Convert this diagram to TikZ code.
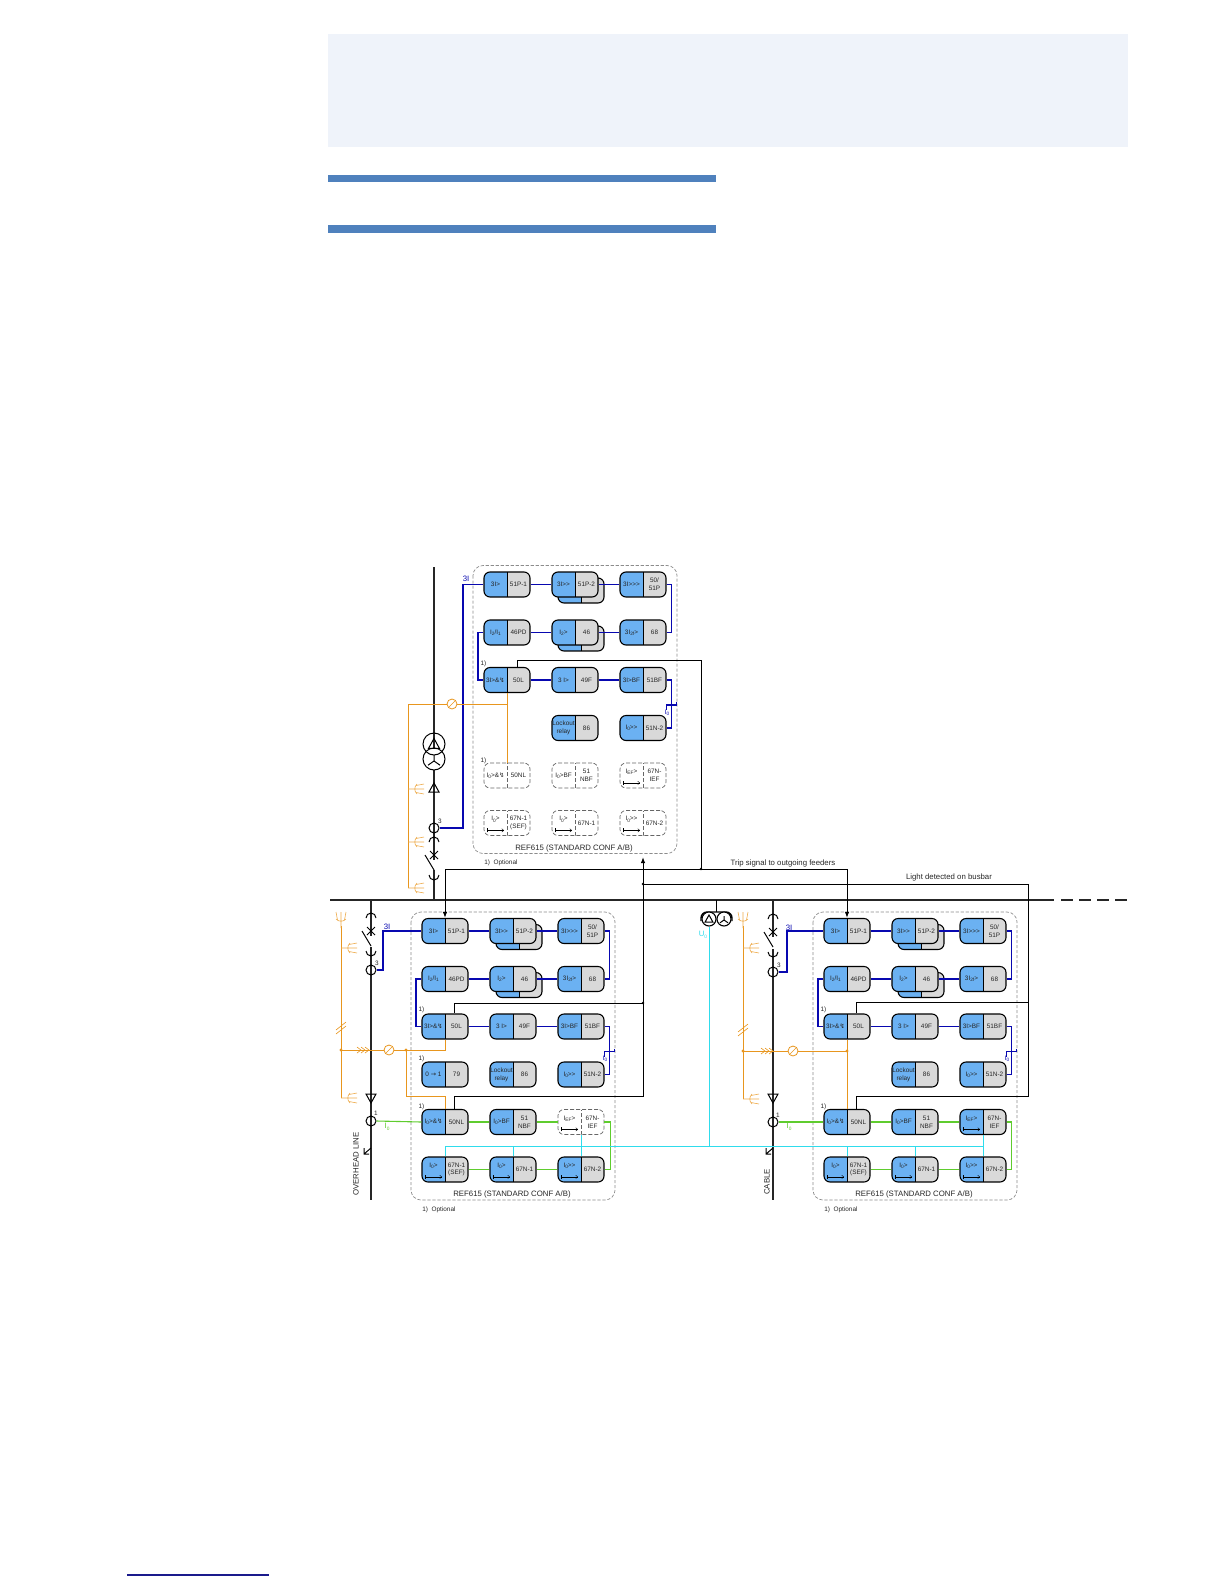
\documentclass[tikz,border=0pt]{standalone}
\usepackage{fontspec}
\usetikzlibrary{arrows.meta}
\setmainfont{Liberation Sans}
\newfontfamily\symfont{DejaVu Sans}
\definecolor{headfill}{HTML}{EFF3FA}
\definecolor{barblue}{HTML}{4F81BD}
\definecolor{linkblue}{HTML}{1A1A8C}
\definecolor{modblue}{HTML}{6BB1F2}
\definecolor{modgray}{HTML}{D9D9D9}
\definecolor{wireblue}{HTML}{0808B0}
\definecolor{wireorange}{HTML}{E8961E}
\definecolor{wiregreen}{HTML}{5FCC2E}
\definecolor{wirecyan}{HTML}{2FDCEC}
\definecolor{framegray}{HTML}{8C8C8C}
\tikzset{
  >={Latex[length=3pt,width=2.2pt]},
  modfill/.style={draw,line width=.55pt,rounded corners=3pt,minimum width=23pt,minimum height=12.5pt,inner sep=0pt,
    path picture={
      \fill[modblue,sharp corners] (path picture bounding box.south west) rectangle (path picture bounding box.north);
      \fill[modgray,sharp corners] (path picture bounding box.south east) rectangle (path picture bounding box.north);
      \draw[line width=.2pt,sharp corners] (path picture bounding box.south) -- (path picture bounding box.north);}},
  modopt/.style={draw=black!60,line width=.35pt,dash pattern=on 2pt off 1pt,rounded corners=3pt,minimum width=23pt,minimum height=12.5pt,inner sep=0pt,
    path picture={
      \draw[line width=.25pt,sharp corners] (path picture bounding box.south) -- (path picture bounding box.north);}},
  modtext/.style={font=\fontsize{3.2}{3.9}\selectfont,align=center,inner sep=0pt,text=black!85},
  captext/.style={font=\fontsize{3.9}{4.6}\selectfont,inner sep=0pt,text=black!85},
  smalltext/.style={font=\fontsize{3.2}{3.8}\selectfont,inner sep=0pt,text=black!85},
  wire/.style={line width=.5pt},
  bluewire/.style={line width=.55pt,draw=wireblue},
  orangewire/.style={line width=.5pt,draw=wireorange},
  greenwire/.style={line width=.55pt,draw=wiregreen},
  cyanwire/.style={line width=.5pt,draw=wirecyan},
  bigbar/.style={line width=.75pt,draw=black!85},
  feeder/.style={line width=.75pt,draw=black!85},
  symline/.style={line width=.5pt},
  earthsym/.style={line width=.3pt,draw=wireorange!80},
  ctring/.style={circle,draw,line width=.5pt,minimum size=5pt,inner sep=0pt},
  meter/.style={circle,draw=wireorange,fill=white,line width=.4pt,minimum size=5pt,inner sep=0pt},
  ptring/.style={circle,draw,line width=.55pt,minimum size=7pt,inner sep=0pt},
  xfmring/.style={circle,draw,line width=.5pt,minimum size=11pt,inner sep=0pt},
}
\newcommand\zapsym{{\symfont\char"21AF}}
\newcommand\subidx[1]{\raisebox{-.35ex}{\fontsize{2.4}{2.4}\selectfont #1}}
% one function block: style, name, position, left and right text
\newcommand\modbox[7][]{%
  \node[#2] (#3) at (#4,#5) {};
  \node[modtext,xshift=-5.75pt,#1] (#3a) at (#3.center) {#6};
  \node[modtext,xshift=5.75pt] (#3b) at (#3.center) {#7};}
\newcommand\dirarrow[1]{%
  \draw[{Bar[width=2pt,line width=.2pt]}-{To[length=1.2pt,width=1.8pt]},line width=.2pt] ([xshift=-10pt,yshift=-3.7pt]#1.center) -- ([xshift=-1.5pt,yshift=-3.7pt]#1.center);}
% all six rows of a relay panel
\newcommand\relaypanel[4]{%
\begin{scope}[shift={(#2)}]
  \draw[framegray,line width=.35pt,dash pattern=on 1.6pt off .9pt,rounded corners=5pt] (-11,-19) rectangle (193,269);
  \node[modfill] (#1s12) at (97,6) {};
  \node[modfill] (#1s22) at (97,54) {};
  \modbox{modfill}{#111}{23}{0}{3I>}{51P-1}
  \modbox{modfill}{#112}{91}{0}{3I>{}>}{51P-2}
  \modbox{modfill}{#113}{159}{0}{3I>{}>{}>}{50/\\51P}
  \modbox{modfill}{#121}{23}{48}{I\subidx{2}/I\subidx{1}}{46PD}
  \modbox{modfill}{#122}{91}{48}{I\subidx{2}>}{46}
  \modbox{modfill}{#123}{159}{48}{3I\subidx{2f}>}{68}
  \modbox{modfill}{#131}{23}{95.5}{3I>\&\zapsym}{50L}
  \modbox{modfill}{#132}{91}{95.5}{3 I>}{49F}
  \modbox{modfill}{#133}{159}{95.5}{3I>BF}{51BF}
  \modbox{modfill}{#142}{91}{143.5}{Lockout\\relay}{86}
  \modbox{modfill}{#143}{159}{143.5}{I\subidx{0}>{}>}{51N-2}
  \modbox{#3}{#151}{23}{191}{I\subidx{0}>\&\zapsym}{50NL}
  \modbox{#3}{#152}{91}{191}{I\subidx{0}>BF}{51\\NBF}
  \modbox[yshift=1.8pt]{#4}{#153}{159}{191}{I\subidx{EF}>}{67N-\\IEF}
  \modbox[yshift=1.8pt]{#3}{#161}{23}{238.5}{I\subidx{0}>}{67N-1\\(SEF)}
  \modbox[yshift=1.8pt]{#3}{#162}{91}{238.5}{I\subidx{0}>}{67N-1}
  \modbox[yshift=1.8pt]{#3}{#163}{159}{238.5}{I\subidx{0}>{}>}{67N-2}
  \dirarrow{#153}
  \dirarrow{#161}
  \dirarrow{#162}
  \dirarrow{#163}
  \foreach \a/\b in {11/12,12/13,21/22,22/23,31/32,32/33}
    \draw[bluewire] (#1\a) -- (#1\b);
  \draw[bluewire] (#113.east) -- ++(5,0) |- (#123.east);
  \draw[bluewire] (#121.west) -- ++(-5.5,0) |- (#131.west);
  \coordinate (#1tick) at (187.5,120.5);
  \draw[bluewire] (#133.east) -| (#1tick);
  \draw[bluewire] (#143.east) -| (#1tick);
  \draw[bluewire] (#1tick) ++(-5,5) -- ++(0,-5) -- ++(10,0) -- ++(0,-3);
  \node[smalltext,text=wireblue] (#1io) at (183,128) {I\subidx{0}};
  \node[captext] (#1cap) at (90,263.5) {REF615 (STANDARD CONF A/B)};
  \node[smalltext,anchor=west] (#1opt) at (0,278.5) {1)\ \ Optional};
  \node[smalltext] (#1oa) at (-.5,79) {1)};
  \node[smalltext] (#1ob) at (-.5,176) {1)};
\end{scope}}
\newcommand\cbswitch[2]{%
  \draw[symline] (#1,#2) ++(-5,-13) arc[start angle=180,end angle=0,radius=2.5pt];
  \draw[symline] (#1,#2) ++(-4,-4) -- ++(8,8) ++(-8,0) -- ++(8,-8);
  \draw[symline] (#1,#2) ++(-9,0) -- ++(9,15);
  \draw[symline] (#1,#2) ++(-5,20) arc[start angle=180,end angle=360,radius=2.5pt];}
\newcommand\arrester[3]{%
  \begin{scope}[shift={(#1,#2)},yscale=#3]
    \draw[symline] (-5,4) -- (0,-5) -- (5,4) -- cycle;
  \end{scope}}
\newcommand\deltasym[3]{%
  \begin{scope}[shift={(#1,#2)},scale=#3]
    \draw[symline] (-1,.8) -- (0,-1) -- (1,.8) -- cycle;
  \end{scope}}
\newcommand\wyesym[3]{%
  \begin{scope}[shift={(#1,#2)},scale=#3]
    \draw[symline] (0,-1) -- (0,0) -- (-1,.7) (0,0) -- (1,.7);
  \end{scope}}
\newcommand\earthfork[3]{%
  \begin{scope}[shift={(#1,#2)},rotate=#3]
    \draw[earthsym] (0,0) -- (16,0) (9,-5) .. controls (6,-2) and (6,2) .. (9,5);
    \draw[earthsym] (8,-3.5) -- (16,-5) (8,3.5) -- (16,5);
  \end{scope}}
\newcommand\earthkey[2]{%
  \draw[symline] (#1,#2) ++(0,-4) -- ++(-7,6) ++(0,-6) -- ++(0,6) -- ++(5,0);}
\begin{document}
\begin{tikzpicture}[x=.5pt,y=-.5pt]
\useasboundingbox (0,0) rectangle (1224,1584);
% page furniture
\fill[headfill] (328,34) rectangle (1128,147);
\fill[barblue] (328,175) rectangle (716,182);
\fill[barblue] (328,225) rectangle (716,233);
\draw[linkblue,line width=.6pt] (127,1575) -- (269,1575);
% busbar
\draw[bigbar] (330,900) -- (1054,900);
\draw[bigbar,dash pattern=on 6pt off 3pt] (1061,900) -- (1127,900);
% feeders
\draw[feeder] (434,567) -- (434,860);
\draw[feeder] (434,870) -- (434,900);
\draw[feeder] (371,900) -- (371,936);
\draw[feeder] (371,947) -- (371,1200);
\draw[feeder] (773,900) -- (773,937);
\draw[feeder] (773,949) -- (773,1200);
\cbswitch{434}{855}
\cbswitch{371}{931}
\cbswitch{773}{932}
% relay panels
\relaypanel{t}{484,584.5}{modopt}{modopt}
\relaypanel{l}{422,931}{modfill}{modopt}
\relaypanel{r}{824,931}{modfill}{modfill}
\begin{scope}[shift={(422,931)}]
\modbox{modfill}{l41}{23}{143.5}{0 {\symfont →} 1}{79}
\node[smalltext] (loc) at (-.5,128) {1)};
\end{scope}
% primary symbols
\node[xfmring,fill=white] (xfm2) at (434,759) {};
\node[xfmring] (xfm1) at (434,744) {};
\deltasym{434}{744}{5.5}
\wyesym{434}{761}{6}
\arrester{434}{788}{1}
\arrester{371}{1098}{-1}
\arrester{773}{1098}{-1}
\node[ctring] (ctt) at (434,828) {};
\node[ctring] (ctla) at (371,970) {};
\node[ctring] (ctlb) at (371,1121) {};
\node[ctring] (ctra) at (773,972) {};
\node[ctring] (ctrb) at (773,1122) {};
\node[smalltext] (ctttxt) at (440,821) {3};
\node[smalltext] (ctlatxt) at (377,963) {3};
\node[smalltext] (ctlbtxt) at (376,1113) {1};
\node[smalltext] (ctratxt) at (779,965) {3};
\node[smalltext] (ctrbtxt) at (778,1115) {1};
\earthkey{371}{1152}
\earthkey{773}{1152}
% voltage transformer
\coordinate (vtb) at (716,900);
\coordinate (vta) at (716,912);
\draw[wire] (vtb) -- (vta);
\draw[line width=.7pt,rounded corners=3pt] (701,921) -- (701,912) -- (732,912) -- (732,921);
\node[ptring,fill=white] (vt1) at (709,919) {};
\node[ptring,fill=white] (vt2) at (724,919) {};
\deltasym{709}{919}{4}
\wyesym{724}{920}{4}
\node[captext,text=wirecyan] (u0) at (703,935) {U\subidx{0}};
% current inputs
\coordinate (tbend) at (463,584.5);
\coordinate (lbend) at (383,931);
\coordinate (rbend) at (787,931);
\draw[bluewire] (ctt.east) -| (tbend) -- (t11.west);
\draw[bluewire] (ctla.east) -| (lbend) -- (l11.west);
\draw[bluewire] (ctra.east) -| (rbend) -- (r11.west);
\node[captext,text=wireblue] (tthree) at (466,579) {3I};
\node[captext,text=wireblue] (lthree) at (387,927) {3I};
\node[captext,text=wireblue] (rthree) at (789,928) {3I};
\draw[greenwire] (ctlb.east) -- (l51.west);
\draw[greenwire] (ctrb.east) -- (r51.west);
\foreach \a/\b in {51/52,52/53,63/62,62/61}{
  \draw[greenwire] (l\a) -- (l\b);
  \draw[greenwire] (r\a) -- (r\b);
}
\draw[greenwire] (l53.east) -- ++(6,0) |- (l63.east);
\draw[greenwire] (r53.east) -- ++(5,0) |- (r63.east);
\node[captext,text=wiregreen] (lio) at (387,1127) {I\subidx{0}};
\node[captext,text=wiregreen] (rio) at (789,1127) {I\subidx{0}};
% residual voltage
\coordinate (ubus) at (709,1146);
\draw[cyanwire] (vt1.south) -- (ubus);
\draw[cyanwire] (l61.north) -- (l61.north |- ubus) -- (r53.south |- ubus) -- (r53.south);
\draw[cyanwire] (l62.north) -- (l62.north |- ubus);
\draw[cyanwire] (r61.north) -- (r61.north |- ubus);
\draw[cyanwire] (r62.north) -- (r62.north |- ubus);
\draw[cyanwire] (l53.south) -- (l63.north);
\draw[cyanwire] (r53.south) -- (r63.north);
% auxiliary orange wiring
\coordinate (orat) at (408,704);
\coordinate (orab) at (408,888);
\coordinate (oral) at (341,1050);
\coordinate (oralb) at (406,1050);
\coordinate (oralc) at (406,1096);
\coordinate (oralt) at (341,926);
\coordinate (orald) at (341,1098);
\coordinate (orar) at (743,1051);
\coordinate (orart) at (743,926);
\coordinate (orard) at (743,1099);
\draw[orangewire] (orab) -- (orat) -- (t31.south |- orat);
\draw[orangewire] (t31.south) -- (t51.north);
\draw[orangewire] (oral) -- (l31.south |- oral) -- (l31.south);
\draw[orangewire] (oralb) -- (oralc) -| (l51.north);
\draw[orangewire] (oral) -- (orald);
\draw[orangewire,line width=.35pt] (oralt) -- (oral);
\draw[orangewire] (orar) -- (r31.south |- orar);
\draw[orangewire] (r31.south) -- (r51.north);
\draw[orangewire] (orar) -- (orard);
\draw[orangewire,line width=.35pt] (orart) -- (orar);
\fill[wireorange] (oral) circle (.8pt) (oralb) circle (.8pt) (orar) circle (.8pt) (r31.south |- orar) circle (.8pt);
\node[meter] (mett) at (452,704) {};
\node[meter] (metl) at (389,1050) {};
\node[meter] (metr) at (793,1051) {};
\foreach \m in {mett,metl,metr}
  \draw[wireorange,line width=.3pt] ([xshift=-1.4pt,yshift=-1.4pt]\m.center) -- ([xshift=1.4pt,yshift=1.4pt]\m.center);
\earthfork{408}{789}{0}
\earthfork{408}{842}{0}
\earthfork{408}{888}{0}
\earthfork{341}{948}{0}
\earthfork{341}{1098}{0}
\earthfork{743}{948}{0}
\earthfork{743}{1099}{0}
\earthfork{341}{928}{90}
\earthfork{743}{928}{90}
\foreach \px/\py in {341/1028,743/1030}
  \draw[wireorange,line width=.3pt] (\px-5,\py+2) -- (\px+5,\py-6) (\px-5,\py+6) -- (\px+5,\py-2);
\foreach \px/\py in {363/1050,767/1051}
  \draw[wireorange,line width=.3pt] (\px-6,\py-3) -- (\px-2,\py) -- (\px-6,\py+3) (\px-2,\py-3) -- (\px+2,\py) -- (\px-2,\py+3) (\px+2,\py-3) -- (\px+6,\py) -- (\px+2,\py+3);
% trip signal
\coordinate (tripc) at (701,660);
\coordinate (tripd) at (701,869);
\draw[wire] ([xshift=5pt]t31.north) |- (tripc) -- (tripd);
\draw[wire,<-] (l11.north) |- (tripd);
\draw[wire,<-] (r11.north) |- (tripd);
\fill (tripd) circle (.7pt);
\node[captext] (triptxt) at (783,863) {Trip signal to outgoing feeders};
% light signal
\coordinate (lighta) at (643,857);
\coordinate (lightb) at (643,884);
\coordinate (lightc) at (643,1003);
\coordinate (lightd) at (643,1096);
\coordinate (lighte) at (1028,884);
\coordinate (lightf) at (1028,1002);
\coordinate (lightg) at (1028,1096);
\draw[wire,<-] (lighta) -- (lightd) -| ([xshift=4.5pt]l51.north);
\draw[wire] (lightc) -| ([xshift=4.5pt]l31.north);
\draw[wire] (lightb) -- (lighte) -- (lightg) -| ([xshift=4.5pt]r51.north);
\draw[wire] (lightf) -| ([xshift=4.5pt]r31.north);
\fill (lightb) circle (.7pt) (lightc) circle (.7pt);
\node[captext] (lighttxt) at (949,877) {Light detected on busbar};
% feeder names
\node[captext,rotate=90] (ohl) at (356,1164) {OVERHEAD LINE};
\node[captext,rotate=90] (cab) at (767,1182) {CABLE};
\end{tikzpicture}
\end{document}
